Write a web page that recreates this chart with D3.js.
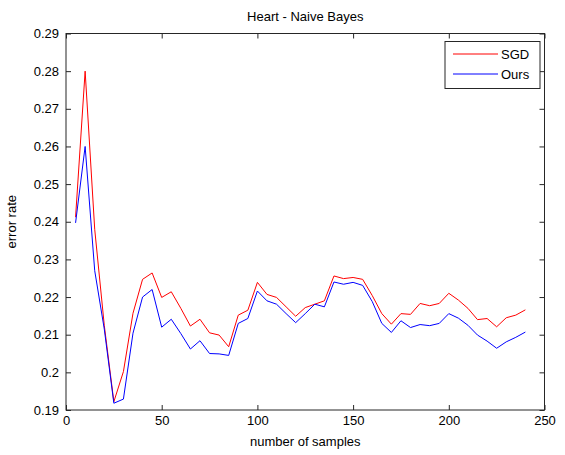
<!DOCTYPE html>
<html><head><meta charset="utf-8">
<script src="https://cdn.jsdelivr.net/npm/d3@7/dist/d3.min.js"></script>
<style>
body{margin:0;background:#fff;}
text{font-family:"Liberation Sans",Arial,sans-serif;}
</style></head>
<body><svg id="c" width="565" height="455"></svg>
<script>
const samples = [5,10,15,20,25,30,35,40,45,50,55,60,65,70,75,80,85,90,95,100,105,110,115,120,125,130,135,140,145,150,155,160,165,170,175,180,185,190,195,200,205,210,215,220,225,230,235,240];
const sgd  = [0.2412,0.2800,0.2380,0.2125,0.1922,0.2002,0.2157,0.2247,0.2264,0.2199,0.2214,0.2170,0.2123,0.2141,0.2105,0.2099,0.2068,0.2152,0.2165,0.2239,0.2207,0.2199,0.2174,0.2149,0.2172,0.2181,0.2190,0.2256,0.2249,0.2252,0.2247,0.2204,0.2156,0.2128,0.2156,0.2154,0.2183,0.2177,0.2183,0.2210,0.2192,0.2170,0.2140,0.2143,0.2121,0.2145,0.2152,0.2166];
const ours = [0.2397,0.2600,0.2270,0.2115,0.1918,0.1929,0.2104,0.2200,0.2220,0.2120,0.2141,0.2103,0.2062,0.2084,0.2050,0.2049,0.2045,0.2130,0.2143,0.2216,0.2190,0.2181,0.2156,0.2132,0.2156,0.2181,0.2174,0.2240,0.2234,0.2239,0.2231,0.2188,0.2130,0.2106,0.2137,0.2119,0.2127,0.2124,0.2130,0.2156,0.2144,0.2125,0.2099,0.2083,0.2064,0.2081,0.2093,0.2107];
const xTicks = [0,50,100,150,200,250];
const yTicks = [0.19,0.2,0.21,0.22,0.23,0.24,0.25,0.26,0.27,0.28,0.29];
const seriesNames = ["SGD","Ours"];
const colors = ["#ff0000","#0000ff"];

const L=66, T=33.5, R=544.5, B=410;
const svg = d3.select("#c");
const x = d3.scaleLinear().domain([0,250]).range([L,R]);
const y = d3.scaleLinear().domain([0.19,0.29]).range([B,T]);
const fs = 13;

// series
const line = d3.line().x((d,i)=>x(samples[i])).y(d=>y(d));
[sgd,ours].forEach((s,k)=>{
  svg.append("path").datum(s).attr("d",line).attr("fill","none")
    .attr("stroke",colors[k]).attr("stroke-width",1);
});

// axes box
const ax = "#262626";
svg.append("rect").attr("x",L).attr("y",T).attr("width",R-L).attr("height",B-T)
  .attr("fill","none").attr("stroke",ax).attr("stroke-width",1);

const tl=5;
const xb = svg.append("g").attr("transform",`translate(0,${B})`)
  .call(d3.axisBottom(x).tickValues(xTicks).tickFormat(d3.format("d")).tickSizeInner(-tl).tickSizeOuter(0).tickPadding(6));
const xt = svg.append("g").attr("transform",`translate(0,${T})`)
  .call(d3.axisTop(x).tickValues(xTicks).tickFormat("").tickSizeInner(-tl).tickSizeOuter(0));
const yl = svg.append("g").attr("transform",`translate(${L},0)`)
  .call(d3.axisLeft(y).tickValues(yTicks).tickFormat(d=>d3.format("")(+d.toFixed(2))).tickSizeInner(-tl).tickSizeOuter(0).tickPadding(7));
const yr = svg.append("g").attr("transform",`translate(${R},0)`)
  .call(d3.axisRight(y).tickValues(yTicks).tickFormat("").tickSizeInner(-tl).tickSizeOuter(0));
[xb,xt,yl,yr].forEach(g=>{
  g.select(".domain").remove();
  g.selectAll("line").attr("stroke",ax);
  g.selectAll("text").attr("fill","#000").style("font-size",fs+"px").style("font-family","'Liberation Sans',Arial,sans-serif");
});

// labels
svg.append("text").attr("x",(L+R)/2).attr("y",21).attr("text-anchor","middle")
  .style("font-size",fs+"px").text("Heart - Naive Bayes");
svg.append("text").attr("x",(L+R)/2).attr("y",446).attr("text-anchor","middle")
  .style("font-size",fs+"px").text("number of samples");
svg.append("text").attr("transform",`translate(16,${(T+B)/2}) rotate(-90)`).attr("text-anchor","middle")
  .style("font-size",fs+"px").text("error rate");

// legend
const lg = svg.append("g");
lg.append("rect").attr("x",445).attr("y",41.5).attr("width",95).attr("height",47)
  .attr("fill","#fff").attr("stroke",ax).attr("stroke-width",1);
seriesNames.forEach((n,k)=>{
  const yy = 54 + k*20;
  lg.append("line").attr("x1",453).attr("x2",498).attr("y1",yy).attr("y2",yy)
    .attr("stroke",colors[k]).attr("stroke-width",1);
  lg.append("text").attr("x",501).attr("y",yy+5).style("font-size",fs+"px").text(n);
});
</script></body></html>
